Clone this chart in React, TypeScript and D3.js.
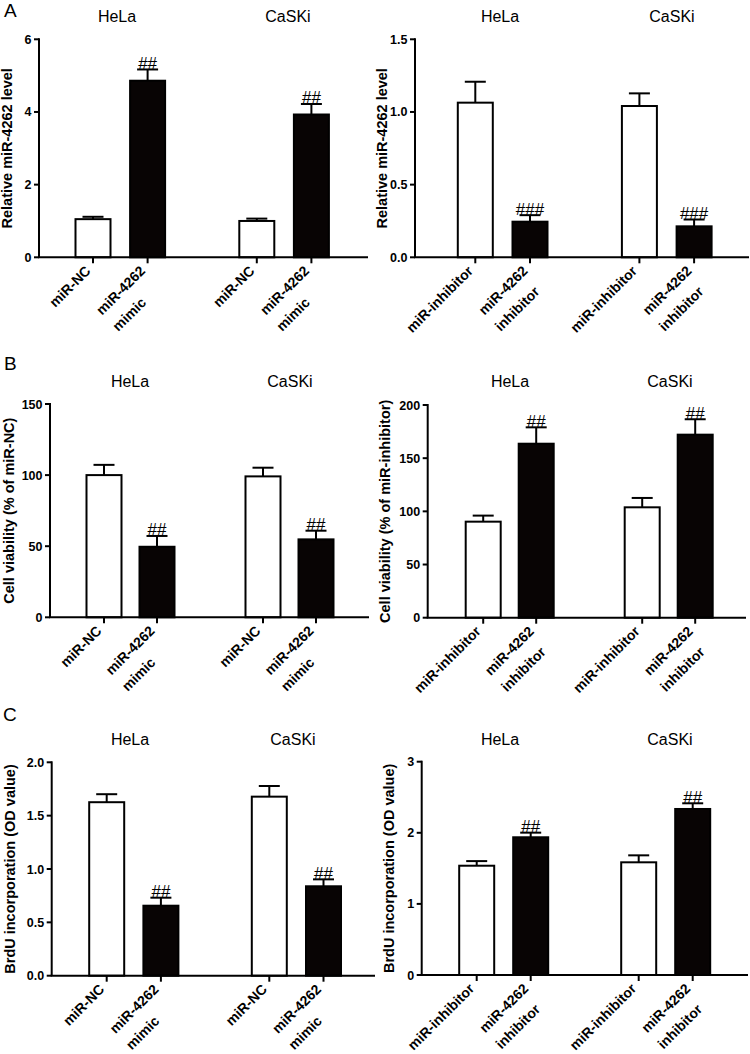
import React from "react";
import * as d3 from "d3";

// ---------- DATA ----------
const cellLines = ["HeLa", "CaSKi"];
const mimicLabels = [["miR-NC"], ["miR-4262", "mimic"]];
const inhibitorLabels = [["miR-inhibitor"], ["miR-4262", "inhibitor"]];

// order: HeLa ctrl, HeLa treated, CaSKi ctrl, CaSKi treated
const relMimicMeans = [1.05, 4.86, 1.0, 3.93];
const relMimicSD = [0.065, 0.31, 0.065, 0.29];
const relMimicMarks = ["", "##", "", "##"];
const relMimicTicks = [0, 2, 4, 6];

const relInhMeans = [1.064, 0.245, 1.041, 0.213];
const relInhSD = [0.144, 0.045, 0.087, 0.047];
const relInhMarks = ["", "###", "", "###"];
const relInhTicks = [0, 0.5, 1.0, 1.5];

const viaMimicMeans = [100, 49.6, 99.1, 54.8];
const viaMimicSD = [7.2, 7.6, 6.1, 6.1];
const viaMimicMarks = ["", "##", "", "##"];
const viaMimicTicks = [0, 50, 100, 150];

const viaInhMeans = [90.3, 163.6, 103.8, 172.1];
const viaInhSD = [5.7, 15.4, 8.8, 14.5];
const viaInhMarks = ["", "##", "", "##"];
const viaInhTicks = [0, 50, 100, 150, 200];

const brduMimicMeans = [1.626, 0.656, 1.678, 0.838];
const brduMimicSD = [0.075, 0.075, 0.1, 0.065];
const brduMimicMarks = ["", "##", "", "##"];
const brduMimicTicks = [0, 0.5, 1.0, 1.5, 2.0];

const brduInhMeans = [1.537, 1.937, 1.585, 2.335];
const brduInhSD = [0.065, 0.065, 0.098, 0.08];
const brduInhMarks = ["", "##", "", "##"];
const brduInhTicks = [0, 1, 2, 3];

// ---------- LAYOUT ----------
const FONT = "'Liberation Sans', Arial, Helvetica, sans-serif";
const BLACK_FILL = "#080404";

type Panel = {
  means: number[]; sds: number[]; marks: string[]; ticks: number[];
  fmt: (v: number) => string; yLabel: string; labels: string[][]; letter?: string;
  layout: { axisX: number; yTop: number; yZero: number; xEnd: number; firstCenter: number; step: number;
    yLabelX: number; titleY: number; titleX: number[]; letterX?: number; letterY?: number; };
};

const panels: Panel[] = [
  { means: relMimicMeans, sds: relMimicSD, marks: relMimicMarks, ticks: relMimicTicks,
    fmt: d3.format("d"), yLabel: "Relative miR-4262 level", labels: mimicLabels, letter: "A",
    layout: { axisX: 39, yTop: 39.3, yZero: 257.3, xEnd: 368, firstCenter: 93, step: 54.6,
      yLabelX: 12, titleY: 21.7, titleX: [117, 288], letterX: 4, letterY: 16.7 } },
  { means: relInhMeans, sds: relInhSD, marks: relInhMarks, ticks: relInhTicks,
    fmt: d3.format(".1f"), yLabel: "Relative miR-4262 level", labels: inhibitorLabels,
    layout: { axisX: 415, yTop: 39.3, yZero: 257.3, xEnd: 749, firstCenter: 475.3, step: 54.7,
      yLabelX: 387, titleY: 21.7, titleX: [500, 672] } },
  { means: viaMimicMeans, sds: viaMimicSD, marks: viaMimicMarks, ticks: viaMimicTicks,
    fmt: d3.format("d"), yLabel: "Cell viability (% of miR-NC)", labels: mimicLabels, letter: "B",
    layout: { axisX: 50, yTop: 404, yZero: 617.3, xEnd: 369, firstCenter: 104, step: 53,
      yLabelX: 14, titleY: 386.7, titleX: [130, 290], letterX: 4, letterY: 370 } },
  { means: viaInhMeans, sds: viaInhSD, marks: viaInhMarks, ticks: viaInhTicks,
    fmt: d3.format("d"), yLabel: "Cell viability (% of miR-inhibitor)", labels: inhibitorLabels,
    layout: { axisX: 427.7, yTop: 405, yZero: 617.7, xEnd: 746, firstCenter: 483.2, step: 53,
      yLabelX: 390, titleY: 387, titleX: [510, 670] } },
  { means: brduMimicMeans, sds: brduMimicSD, marks: brduMimicMarks, ticks: brduMimicTicks,
    fmt: d3.format(".1f"), yLabel: "BrdU incorporation (OD value)", labels: mimicLabels, letter: "C",
    layout: { axisX: 51.7, yTop: 762.3, yZero: 975.7, xEnd: 375, firstCenter: 106.7, step: 54.2,
      yLabelX: 14.5, titleY: 745, titleX: [130, 293], letterX: 3, letterY: 721 } },
  { means: brduInhMeans, sds: brduInhSD, marks: brduInhMarks, ticks: brduInhTicks,
    fmt: d3.format("d"), yLabel: "BrdU incorporation (OD value)", labels: inhibitorLabels,
    layout: { axisX: 421.7, yTop: 761.7, yZero: 975, xEnd: 748, firstCenter: 476.7, step: 54,
      yLabelX: 394, titleY: 745, titleX: [500, 670] } },
];

let measureCtx: CanvasRenderingContext2D | null = null;
function textWidth(s: string, font: string): number {
  if (!measureCtx) measureCtx = document.createElement("canvas").getContext("2d");
  if (!measureCtx) return s.length * 8;
  measureCtx.font = font;
  return measureCtx.measureText(s).width;
}

const BAR_W = 35;
const CAP_HALF = 10.5;
const X_LABEL_SIZE = 14;
const labelFont = `bold ${X_LABEL_SIZE}px 'Liberation Sans', Arial, sans-serif`;
const slot = (i: number) => Math.floor(i / 2) * 3 + (i % 2);

function BarPanel({ p }: { p: Panel }) {
  const L = p.layout;
  const y = d3.scaleLinear().domain([0, p.ticks[p.ticks.length - 1]]).range([L.yZero, L.yTop]);
  const x = d3.scaleLinear().domain([0, 4]).range([L.firstCenter, L.firstCenter + 4 * L.step]);
  return (
    <g>
      {p.letter && <text x={L.letterX} y={L.letterY} fontSize={19} fontFamily={FONT}>{p.letter}</text>}
      {cellLines.map((c, g) => (
        <text key={c} x={L.titleX[g]} y={L.titleY} fontSize={16} fontFamily={FONT} textAnchor="middle">{c}</text>
      ))}
      <text transform={`translate(${L.yLabelX},${(L.yTop + L.yZero) / 2}) rotate(-90)`}
        textAnchor="middle" fontSize={14.5} fontWeight="bold" fontFamily={FONT}>{p.yLabel}</text>
      {p.means.map((m, i) => {
        const cx = x(slot(i));
        const top = y(m);
        const errTop = y(m + p.sds[i]);
        return (
          <g key={i}>
            <line x1={cx} x2={cx} y1={top} y2={errTop} stroke="#000" strokeWidth={2} />
            <line x1={cx - CAP_HALF} x2={cx + CAP_HALF} y1={errTop} y2={errTop} stroke="#000" strokeWidth={2} />
            <rect x={cx - BAR_W / 2} y={top} width={BAR_W} height={L.yZero - top}
              fill={i % 2 ? BLACK_FILL : "#fff"} stroke="#000" strokeWidth={2} />
            {p.marks[i] && <text x={cx} y={errTop - 0.5} textAnchor="middle" fontSize={17} fontFamily={FONT}>{p.marks[i]}</text>}
          </g>
        );
      })}
      <line x1={L.axisX} x2={L.axisX} y1={L.yTop - 1} y2={L.yZero} stroke="#000" strokeWidth={2} />
      {p.ticks.map((t) => (
        <g key={t}>
          <line x1={L.axisX - 5} x2={L.axisX} y1={y(t)} y2={y(t)} stroke="#000" strokeWidth={2} />
          <text x={L.axisX - 7.5} y={y(t)} dy="0.36em" textAnchor="end" fontSize={12.5} fontWeight="bold" fontFamily={FONT}>{p.fmt(t)}</text>
        </g>
      ))}
      <line x1={L.axisX - 1} x2={L.xEnd} y1={L.yZero} y2={L.yZero} stroke="#000" strokeWidth={2} />
      {p.means.map((_, i) => {
        const cx = x(slot(i));
        const lines = p.labels[i % 2];
        const w1 = textWidth(lines[0], labelFont);
        const ax = cx - 1.5, ay = L.yZero + 14.5;
        return (
          <g key={"xl" + i}>
            <line x1={cx} x2={cx} y1={L.yZero} y2={L.yZero + 6} stroke="#000" strokeWidth={2} />
            {lines.map((ln, k) => (
              <text key={k} transform={`translate(${ax},${ay}) rotate(-45)`} x={-w1} y={k * 23}
                fontSize={X_LABEL_SIZE} fontWeight="bold" fontFamily={FONT}>{ln}</text>
            ))}
          </g>
        );
      })}
    </g>
  );
}

export default function App() {
  return (
    <svg width={750} height={1054} style={{ position: "absolute", left: 0, top: 0, display: "block", background: "#fff" }}>
      <rect width={750} height={1054} fill="#fff" />
      {panels.map((p, i) => <BarPanel key={i} p={p} />)}
    </svg>
  );
}
